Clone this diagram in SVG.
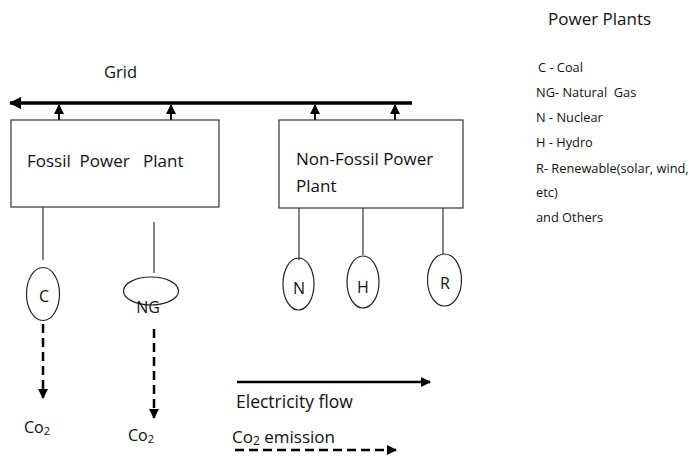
<svg xmlns="http://www.w3.org/2000/svg" width="689" height="459" viewBox="0 0 689 459">
<defs>
<style>
text{font-family:"Open Sans","Liberation Sans",sans-serif;fill:#111}
.t15{font-size:17px}
.tn{font-size:16px}
.t12{font-size:12.8px}
.box{fill:#fff;stroke:#333;stroke-width:1.2}
.thin{stroke:#333;stroke-width:1.2;fill:none}
.ell{fill:none;stroke:#222;stroke-width:1.2}
.grid{stroke:#000;stroke-width:3.5;fill:none}
.up{stroke:#000;stroke-width:2;fill:none}
.flow{stroke:#000;stroke-width:2.5;fill:none}
.dash{stroke:#000;stroke-width:2.5;fill:none;stroke-dasharray:9,5}
</style>
<marker id="ah" viewBox="0 0 10 10" refX="9" refY="5" markerWidth="4" markerHeight="4" orient="auto" markerUnits="strokeWidth"><path d="M0,0 L10,5 L0,10 z" fill="#000"/></marker>
<marker id="ahs" viewBox="0 0 10 10" refX="9" refY="5" markerWidth="5" markerHeight="5" orient="auto" markerUnits="strokeWidth"><path d="M0,0 L10,5 L0,10 z" fill="#000"/></marker>
<marker id="ahg" viewBox="0 0 10 10" refX="9" refY="5" markerWidth="3.5" markerHeight="3.5" orient="auto" markerUnits="strokeWidth"><path d="M0,0 L10,5 L0,10 z" fill="#000"/></marker>
</defs>

<g id="connectors">
<line class="grid" x1="412" y1="103" x2="10" y2="103" marker-end="url(#ahg)"/>
<line class="up" x1="59" y1="120" x2="59" y2="105" marker-end="url(#ahs)"/>
<line class="up" x1="171" y1="120" x2="171" y2="105" marker-end="url(#ahs)"/>
<line class="up" x1="315" y1="120" x2="315" y2="105" marker-end="url(#ahs)"/>
<line class="up" x1="395" y1="120" x2="395" y2="105" marker-end="url(#ahs)"/>
<line class="thin" x1="43" y1="207" x2="43" y2="260"/>
<line class="thin" x1="154" y1="222" x2="154" y2="273"/>
<line class="thin" x1="299" y1="208" x2="299" y2="260"/>
<line class="thin" x1="363" y1="208" x2="363" y2="255"/>
<line class="thin" x1="443" y1="208" x2="443" y2="254"/>
<line class="dash" x1="43" y1="324" x2="43" y2="398" marker-end="url(#ah)"/>
<line class="dash" x1="154" y1="329" x2="154" y2="418" marker-end="url(#ah)"/>
</g>

<g id="grid-label"><text class="t15" x="104" y="78" style="font-size:16.5px">Grid</text></g>

<g id="fossil"><rect class="box" x="11" y="120" width="208" height="87"/>
<text class="t15" x="27" y="167" xml:space="preserve">Fossil  Power   Plant</text></g>

<g id="nonfossil"><rect class="box" x="279" y="120" width="184" height="88"/>
<text class="t15" x="296" y="165">Non-Fossil Power</text>
<text class="t15" x="296" y="192">Plant</text></g>

<g id="node-c"><ellipse class="ell" cx="43" cy="294" rx="16.5" ry="26.5"/><text class="tn" x="44" y="302" text-anchor="middle">C</text></g>
<g id="node-ng"><ellipse class="ell" cx="151" cy="291" rx="27.5" ry="14"/><text class="tn" x="148" y="313" text-anchor="middle">NG</text></g>
<g id="node-n"><ellipse class="ell" cx="298.5" cy="284" rx="15.5" ry="26"/><text class="tn" x="299" y="294" text-anchor="middle">N</text></g>
<g id="node-h"><ellipse class="ell" cx="363" cy="282" rx="16" ry="26"/><text class="tn" x="363" y="293" text-anchor="middle">H</text></g>
<g id="node-r"><ellipse class="ell" cx="444.5" cy="280" rx="17" ry="26"/><text class="tn" x="445" y="289" text-anchor="middle">R</text></g>

<g id="co2-c"><text class="t15" x="24" y="433" style="font-size:16px">Co<tspan font-size="11" dy="2">2</tspan></text></g>
<g id="co2-ng"><text class="t15" x="128" y="441" style="font-size:16px">Co<tspan font-size="11" dy="2">2</tspan></text></g>

<g id="legend-lines">
<line class="flow" x1="237" y1="382" x2="430" y2="382" marker-end="url(#ah)"/>
<text class="t15" x="236" y="408" style="font-size:17.5px">Electricity flow</text>
<text class="t15" x="232" y="443">Co<tspan font-size="12" dy="2">2</tspan><tspan dy="-2"> emission</tspan></text>
<line class="dash" x1="235" y1="450" x2="396" y2="450" marker-end="url(#ah)"/>
</g>

<g id="legend">
<text x="548" y="25" style="font-size:17px">Power Plants</text>
<text class="t12" x="538" y="72">C - Coal</text>
<text class="t12" x="536" y="97" xml:space="preserve">NG- Natural  Gas</text>
<text class="t12" x="536" y="122">N - Nuclear</text>
<text class="t12" x="536" y="147">H - Hydro</text>
<text class="t12" x="536" y="173">R- Renewable(solar, wind,</text>
<text class="t12" x="536" y="197">etc)</text>
<text class="t12" x="536" y="222">and Others</text>
</g>
</svg>
